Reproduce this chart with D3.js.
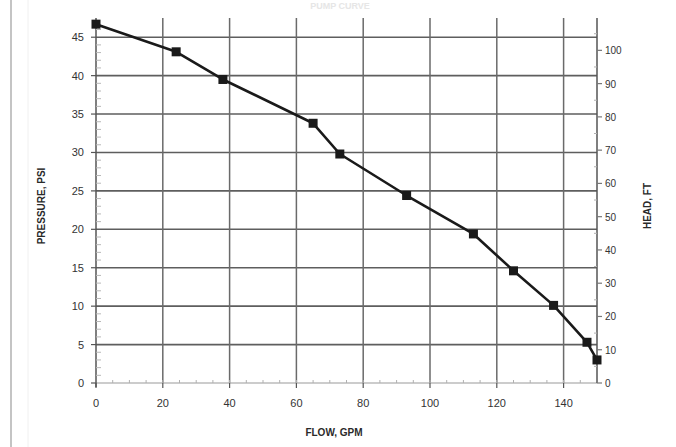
<!DOCTYPE html>
<html><head><meta charset="utf-8">
<script src="https://cdn.jsdelivr.net/npm/d3@7"></script>
<style>body{margin:0;background:#fff}svg{display:block}</style>
</head><body>
<svg id="c" width="676" height="447"></svg>
<script>
const flowGPM = [0, 24, 38, 65, 73, 93, 113, 125, 137, 147, 150];
const pressurePSI = [46.7, 43.1, 39.5, 33.8, 29.8, 24.4, 19.4, 14.6, 10.1, 5.3, 3.0];
const xTicks = [0, 20, 40, 60, 80, 100, 120, 140];
const yTicks = [0, 5, 10, 15, 20, 25, 30, 35, 40, 45];
const headTicks = [0, 10, 20, 30, 40, 50, 60, 70, 80, 90, 100];
const FT_PER_PSI = 2.31;
const xMax = 150, yMax = 47.5;

const svg = d3.select("#c");
const L = 96, R = 597, T = 18, B = 383;
const x = d3.scaleLinear().domain([0, xMax]).range([L, R]);
const y = d3.scaleLinear().domain([0, yMax]).range([B, T]);
const yH = d3.scaleLinear().domain([0, yMax * FT_PER_PSI]).range([B, T]);
const font = "'Liberation Sans', Arial, sans-serif";

// frame lines
svg.append("line").attr("x1", 11).attr("x2", 11).attr("y1", 0).attr("y2", 447)
  .attr("stroke", "#c4c4c4").attr("stroke-width", 2);
svg.append("line").attr("x1", 28).attr("x2", 28).attr("y1", 0).attr("y2", 447)
  .attr("stroke", "#f0f0f0").attr("stroke-width", 1);

// faint title
svg.append("text").attr("x", 340).attr("y", 9).attr("text-anchor", "middle")
  .attr("font-family", font).attr("font-size", 9).attr("font-weight", "bold")
  .attr("fill", "#e6e6e6").text("PUMP CURVE");

// gridlines
svg.append("g").selectAll("line").data(yTicks.filter(d => d > 0)).join("line")
  .attr("x1", L).attr("x2", R).attr("y1", d => y(d)).attr("y2", d => y(d))
  .attr("stroke", "#5e5e5e").attr("stroke-width", 1.6);
svg.append("g").selectAll("line").data(xTicks.filter(d => d > 0)).join("line")
  .attr("x1", d => x(d)).attr("x2", d => x(d)).attr("y1", T).attr("y2", B)
  .attr("stroke", "#6a6a6a").attr("stroke-width", 1.5);

// bottom axis line (light)
svg.append("line").attr("x1", L).attr("x2", R).attr("y1", B).attr("y2", B)
  .attr("stroke", "#9a9a9a").attr("stroke-width", 1.2);
svg.append("g").selectAll("line").data(d3.range(5, xMax, 5)).join("line")
  .attr("x1", d => x(d)).attr("x2", d => x(d)).attr("y1", B - 3).attr("y2", B)
  .attr("stroke", "#b0b0b0").attr("stroke-width", 1);
svg.append("g").selectAll("line").data(xTicks).join("line")
  .attr("x1", d => x(d)).attr("x2", d => x(d)).attr("y1", B).attr("y2", B + 5)
  .attr("stroke", "#555").attr("stroke-width", 1.2);

// left axis
svg.append("line").attr("x1", L).attr("x2", L).attr("y1", T).attr("y2", B + 4)
  .attr("stroke", "#555").attr("stroke-width", 1.5);
svg.append("g").selectAll("line").data(d3.range(1, 47, 1).filter(d => d % 5)).join("line")
  .attr("x1", L).attr("x2", L + 5).attr("y1", d => y(d)).attr("y2", d => y(d))
  .attr("stroke", "#b8b8b8").attr("stroke-width", 1);
svg.append("g").selectAll("line").data(yTicks).join("line")
  .attr("x1", L - 5).attr("x2", L).attr("y1", d => y(d)).attr("y2", d => y(d))
  .attr("stroke", "#555").attr("stroke-width", 1.2);

// right axis
svg.append("line").attr("x1", R).attr("x2", R).attr("y1", T).attr("y2", B)
  .attr("stroke", "#555").attr("stroke-width", 1.5);
svg.append("g").selectAll("line").data(headTicks).join("line")
  .attr("x1", R).attr("x2", R + 5).attr("y1", d => yH(d)).attr("y2", d => yH(d))
  .attr("stroke", "#777").attr("stroke-width", 1.2);
svg.append("g").selectAll("line").data(d3.range(5, 106, 10)).join("line")
  .attr("x1", R - 3).attr("x2", R).attr("y1", d => yH(d)).attr("y2", d => yH(d))
  .attr("stroke", "#b0b0b0").attr("stroke-width", 1);

// tick labels
svg.append("g").selectAll("text").data(xTicks).join("text")
  .attr("x", d => x(d)).attr("y", 407).attr("text-anchor", "middle")
  .attr("font-family", font).attr("font-size", 11).attr("fill", "#333").text(d => d);
svg.append("g").selectAll("text").data(yTicks).join("text")
  .attr("x", 84).attr("y", d => y(d) + 4).attr("text-anchor", "end")
  .attr("font-family", font).attr("font-size", 11).attr("fill", "#333").text(d => d);
svg.append("g").selectAll("text").data(headTicks).join("text")
  .attr("x", 605).attr("y", d => yH(d) + 4).attr("text-anchor", "start")
  .attr("font-family", font).attr("font-size", 10).attr("fill", "#333").text(d => d);

// axis titles
svg.append("text").attr("x", 334).attr("y", 436).attr("text-anchor", "middle")
  .attr("font-family", font).attr("font-size", 10).attr("font-weight", "bold")
  .attr("fill", "#2a2a2a").text("FLOW, GPM");
svg.append("text").attr("transform", "translate(45,206) rotate(-90)").attr("text-anchor", "middle")
  .attr("font-family", font).attr("font-size", 10).attr("font-weight", "bold")
  .attr("fill", "#2a2a2a").text("PRESSURE, PSI");
svg.append("text").attr("transform", "translate(651,206) rotate(-90)").attr("text-anchor", "middle")
  .attr("font-family", font).attr("font-size", 10).attr("font-weight", "bold")
  .attr("fill", "#2a2a2a").text("HEAD, FT");

// data line
const pts = flowGPM.map((f, i) => [f, pressurePSI[i]]);
svg.append("path").datum(pts)
  .attr("d", d3.line().x(d => x(d[0])).y(d => y(d[1])))
  .attr("fill", "none").attr("stroke", "#1a1a1a").attr("stroke-width", 2.6)
  .attr("stroke-linejoin", "round");
svg.append("g").selectAll("rect").data(pts).join("rect")
  .attr("x", d => x(d[0]) - 4.5).attr("y", d => y(d[1]) - 4.5)
  .attr("width", 9).attr("height", 9).attr("fill", "#1a1a1a");
</script>
</body></html>
